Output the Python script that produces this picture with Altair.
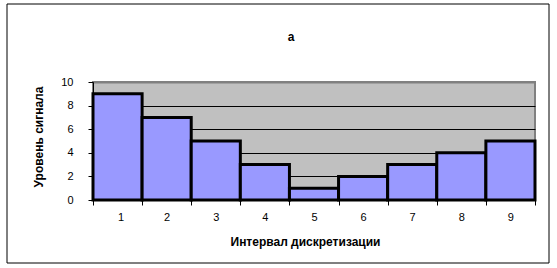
import altair as alt
import pandas as pd

categories = [1, 2, 3, 4, 5, 6, 7, 8, 9]
values = [9, 7, 5, 3, 1, 2, 3, 4, 5]
y_ticks = [0, 2, 4, 6, 8, 10]
x_edges = [0.5, 1.5, 2.5, 3.5, 4.5, 5.5, 6.5, 7.5, 8.5, 9.5]

df = pd.DataFrame({"cat": categories, "val": values})

FONT = "Liberation Sans"
W, H = 442, 118

x_scale = alt.Scale(domain=[0.5, 9.5], nice=False, zero=False)
y_scale = alt.Scale(domain=[0, 10], nice=False)

bars = alt.Chart(df).transform_calculate(
    x0="datum.cat - 0.5", x1="datum.cat + 0.5"
).mark_bar(
    fill="#9999FF", stroke="black", strokeWidth=3, strokeJoin="miter"
).encode(
    x=alt.X("x0:Q", scale=x_scale,
            axis=alt.Axis(values=x_edges, title="Интервал дискретизации",
                          labelExpr="datum.value < 9 ? format(datum.value + 0.5, 'd') : ''",
                          labelOffset=24.5, labelPadding=6, tickSize=5,
                          grid=False, domainColor="black", tickColor="black",
                          titleX=212, titleY=41, titleBaseline="middle")),
    x2="x1:Q",
    y=alt.Y("val:Q", scale=y_scale,
            axis=alt.Axis(values=y_ticks, title="Уровень сигнала",
                          labelPadding=15, tickSize=5,
                          grid=True,
                          gridColor={"condition": {"test": "datum.value == 10", "value": "#808080"}, "value": "black"},
                          gridWidth={"condition": {"test": "datum.value == 10", "value": 2}, "value": 1},
                          domainColor="black", tickColor="black",
                          titleX=-55, titleY=54.5, titleBaseline="middle")),
    y2=alt.datum(0),
)

border = alt.Chart(alt.Data(values=[{}])).mark_rect(
    fill=None, stroke="black", strokeWidth=1, clip=False
).encode(
    x=alt.value(-86), x2=alt.value(456), y=alt.value(-78), y2=alt.value(181)
)

chart = alt.layer(bars, border).properties(
    width=W, height=H,
    title=alt.TitleParams(text="a", fontSize=12, fontWeight="bold", font=FONT,
                          anchor="middle", frame="group", dx=-23, offset=-40,
                          color="black"),
    autosize=alt.AutoSizeParams(type="none"),
    padding={"left": 93, "top": 82, "right": 22, "bottom": 68},
).configure(
    background="white",
    font=FONT,
).configure_view(
    fill="#C0C0C0", stroke="#808080", strokeWidth=2
).configure_axis(
    labelFont=FONT, titleFont=FONT, labelFontSize=11, titleFontSize=12,
    labelColor="black", titleColor="black", titleFontWeight="bold",
)

chart.save("out.html", embed_options={"renderer": "svg", "actions": False})
